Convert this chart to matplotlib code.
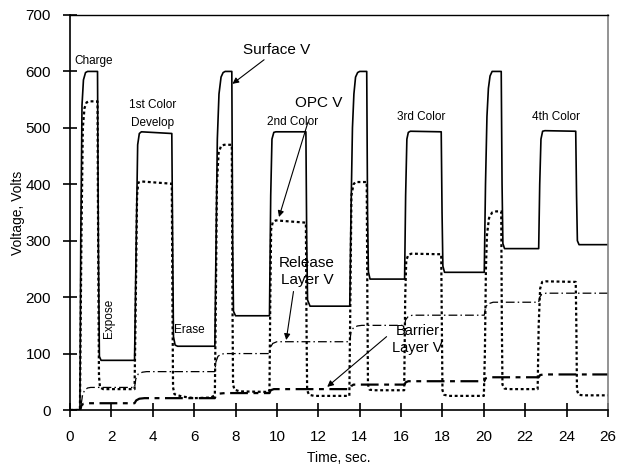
import matplotlib
matplotlib.use('Agg')
from matplotlib import pyplot as plt

plt.rcParams['font.family'] = ['Liberation Sans', 'DejaVu Sans']

# Surface V (solid line)
surf_t = [0, 0.48, 0.52, 0.58, 0.65, 0.75, 0.85, 1.33, 1.37, 1.42, 1.5, 3.12, 3.2, 3.27, 3.35, 3.45,
          4.92, 4.96, 5.0, 5.08, 5.2, 7.0, 7.06, 7.12, 7.2, 7.3, 7.4, 7.5, 7.82, 7.86, 7.9, 8.0,
          9.64, 9.7, 9.76, 9.85, 9.95, 11.4, 11.44, 11.48, 11.6, 13.52, 13.58, 13.65, 13.72, 13.8, 13.9, 14.0,
          14.34, 14.38, 14.42, 14.5, 16.17, 16.22, 16.28, 16.35, 16.45, 17.94, 17.98, 18.02, 18.1,
          20.02, 20.08, 20.15, 20.22, 20.3, 20.4, 20.84, 20.88, 20.92, 21.0, 22.65, 22.7, 22.76, 22.84, 22.95,
          24.44, 24.48, 24.52, 24.6, 26]
surf_v = [0, 0, 300, 540, 585, 598, 600, 600, 300, 95, 88, 88, 300, 470, 490, 493,
          490, 300, 130, 115, 113, 113, 300, 480, 560, 590, 598, 600, 600, 300, 175, 167,
          167, 380, 480, 492, 493, 493, 300, 195, 184, 184, 350, 500, 560, 590, 598, 600,
          600, 350, 245, 232, 232, 380, 480, 492, 494, 493, 350, 255, 244,
          244, 400, 520, 570, 592, 600, 600, 400, 295, 286, 286, 400, 480, 494, 495,
          494, 380, 300, 293, 293]

# OPC V (dotted)
opc_t = [0, 0.48, 0.55, 0.62, 0.7, 0.8, 0.9, 1.33, 1.36, 1.4, 1.45, 1.6, 3.12, 3.18, 3.24, 3.3, 3.45,
         4.92, 4.95, 4.98, 5.05, 5.4, 6.0, 6.8, 7.0, 7.05, 7.1, 7.18, 7.3, 7.45, 7.82, 7.85, 7.88, 7.95, 8.2,
         9.6, 9.64, 9.68, 9.72, 9.8, 9.95, 11.4, 11.43, 11.46, 11.55, 11.8, 13.5, 13.55, 13.6, 13.7, 13.8,
         14.34, 14.37, 14.4, 14.48, 14.7, 16.15, 16.2, 16.25, 16.35, 16.5, 17.94, 17.97, 18.0, 18.08, 18.3,
         20.0, 20.05, 20.1, 20.15, 20.25, 20.4, 20.6, 20.84, 20.87, 20.9, 21.0, 21.2, 22.6, 22.65, 22.72,
         22.82, 23.0, 24.44, 24.47, 24.5, 24.58, 24.8, 26]
opc_v = [0, 0, 300, 500, 535, 545, 547, 547, 300, 60, 40, 37, 37, 200, 380, 403, 405,
         401, 200, 40, 28, 24, 21, 22, 26, 200, 400, 455, 468, 470, 470, 200, 45, 36, 33,
         32, 36, 200, 320, 333, 336, 332, 150, 35, 27, 25, 25, 200, 380, 400, 404,
         404, 200, 45, 36, 35, 35, 200, 265, 275, 277, 276, 150, 35, 27, 25,
         25, 100, 250, 310, 340, 350, 352, 352, 150, 45, 38, 37, 37, 150, 215,
         227, 228, 227, 150, 35, 27, 26, 26]

# Release Layer V (dash-dot)
rel_t = [0, 0.5, 0.6, 0.7, 0.85, 1.0, 3.12, 3.18, 3.3, 3.5, 3.7, 7.0, 7.05, 7.15, 7.3, 7.5,
         9.64, 9.7, 9.8, 10.0, 13.52, 13.58, 13.7, 13.9, 14.1, 16.17, 16.22, 16.35, 16.55,
         20.02, 20.08, 20.2, 20.45, 22.65, 22.7, 22.8, 23.0, 26]
rel_v = [0, 0, 25, 35, 39, 40, 40, 55, 64, 67, 68, 68, 85, 95, 99, 100,
         100, 112, 118, 121, 121, 138, 146, 149, 150, 150, 160, 166, 168,
         168, 182, 188, 191, 191, 200, 205, 207, 207]

# Barrier Layer V (long dash - short dash)
bar_t = [0, 0.5, 0.55, 0.65, 0.8, 3.12, 3.2, 3.35, 3.6, 7.0, 7.05, 7.2, 7.5, 9.64, 9.7, 9.85,
         13.52, 13.58, 13.7, 16.17, 16.22, 16.35, 20.02, 20.08, 20.25, 22.65, 22.72, 22.9, 26]
bar_v = [0, 0, 8, 11, 12, 12, 17, 20, 21, 21, 26, 29, 30, 30, 35, 37,
         37, 42, 45, 45, 49, 51, 51, 56, 58, 58, 62, 63, 63]

fig, ax = plt.subplots(figsize=(6.26, 4.66), dpi=100)
fig.subplots_adjust(left=70 / 626, right=608 / 626, top=1 - 15 / 466, bottom=1 - 410 / 466)

ax.plot(surf_t, surf_v, color='black', lw=1.2)
ax.plot(opc_t, opc_v, color='black', lw=1.6, linestyle=(0, (1.3, 1.2)))
ax.plot(rel_t, rel_v, color='black', lw=0.9, linestyle=(0, (7, 2.5, 1.2, 2.5)))
ax.plot(bar_t, bar_v, color='black', lw=1.6, linestyle=(0, (8, 2.5, 2.2, 2.5)))

ax.set_xlim(0, 26)
ax.set_ylim(0, 700)
ax.set_xticks(range(0, 27, 2))
ax.set_yticks(range(0, 701, 100))
ax.tick_params(direction='inout', length=9.5, width=1.2, labelsize=11)
ax.tick_params(axis='x', pad=10)
ax.tick_params(axis='y', pad=9)
for s in ax.spines.values():
    s.set_linewidth(1.2)
ax.spines['right'].set_color('#808080')
ax.spines['top'].set_linewidth(1.0)
ax.set_xlabel('Time, sec.', fontsize=10, labelpad=5)
ax.set_ylabel('Voltage, Volts', fontsize=10, labelpad=0)

small = 8.5
ax.text(1.16, 619, 'Charge', fontsize=small, ha='center', va='center')
ax.text(4.0, 525, '1st Color\nDevelop', fontsize=small, ha='center', va='center', linespacing=1.7)
ax.text(10.75, 511, '2nd Color', fontsize=small, ha='center', va='center')
ax.text(16.96, 519, '3rd Color', fontsize=small, ha='center', va='center')
ax.text(23.5, 519, '4th Color', fontsize=small, ha='center', va='center')
ax.text(1.9, 163, 'Expose', fontsize=small, ha='center', va='center', rotation=90)
ax.text(5.03, 142, 'Erase', fontsize=small, ha='left', va='center')

arrow = dict(arrowstyle='-|>', color='black', lw=0.8, mutation_scale=9, shrinkA=0, shrinkB=0)
ax.annotate('Surface V', xy=(7.85, 578), xytext=(10.0, 638), fontsize=11,
            ha='center', va='center', arrowprops=arrow)
ax.annotate('', xy=(10.1, 342), xytext=(11.5, 510), arrowprops=arrow)
ax.text(12.0, 544, 'OPC V', fontsize=11, ha='center', va='center')
ax.annotate('', xy=(10.45, 124), xytext=(10.8, 210), arrowprops=arrow)
ax.text(11.45, 245, 'Release\nLayer V', fontsize=11, ha='center', va='center', linespacing=1.3)
ax.annotate('', xy=(12.43, 41), xytext=(15.3, 130), arrowprops=arrow)
ax.text(16.8, 125, 'Barrier\nLayer V', fontsize=10.5, ha='center', va='center', linespacing=1.2)

fig.savefig('out.png', dpi=100)
